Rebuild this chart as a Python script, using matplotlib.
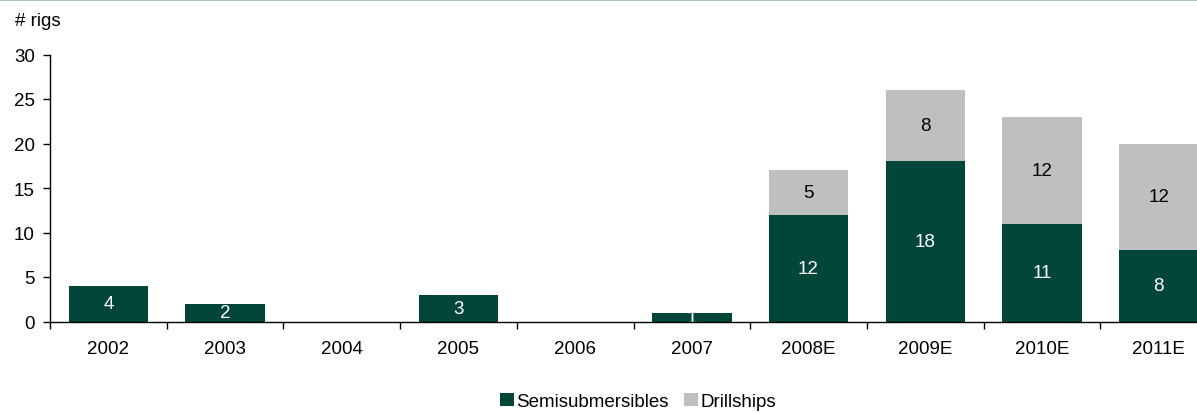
import matplotlib
matplotlib.use("Agg")
import matplotlib.pyplot as plt
from matplotlib.patches import Patch
from matplotlib.lines import Line2D

years = ["2002", "2003", "2004", "2005", "2006", "2007", "2008E", "2009E", "2010E", "2011E"]
semis = [4, 2, 0, 3, 0, 1, 12, 18, 11, 8]
drills = [0, 0, 0, 0, 0, 0, 5, 8, 12, 12]
yticks = [0, 5, 10, 15, 20, 25, 30]

green = "#02463A"
grey = "#BFBFBF"
FS = 13.5

plt.rcParams["font.family"] = ["Liberation Sans", "DejaVu Sans"]
plt.rcParams["font.size"] = FS

W, H = 1197, 414
fig = plt.figure(figsize=(W / 100, H / 100), dpi=100)
ax = fig.add_axes([50 / W, (H - 322.5) / H, 1167 / W, 267 / H])

x = list(range(len(years)))
bw = 0.68
ax.bar(x, semis, width=bw, color=green, zorder=2)
ax.bar(x, drills, width=bw, bottom=semis, color=grey, zorder=2)

for i in x:
    if semis[i] > 0:
        ax.text(i, semis[i] / 2, str(semis[i]), ha="center", va="center",
                color="white", fontsize=FS, zorder=3)
    if drills[i] > 0:
        ax.text(i, semis[i] + drills[i] / 2, str(drills[i]), ha="center",
                va="center", color="black", fontsize=FS, zorder=3)

ax.set_xlim(-0.5, len(years) - 0.5)
ax.set_ylim(0, 30)
ax.set_yticks(yticks)
ax.set_yticklabels([str(v) for v in yticks])
ax.set_xticks([i - 0.5 for i in range(len(years) + 1)])
ax.set_xticklabels([])
ax.set_xticks(x, minor=True)
ax.set_xticklabels(years, minor=True)
ax.tick_params(axis="x", which="minor", length=0, pad=13)
ax.tick_params(axis="x", which="major", length=5, width=1, direction="out")
ax.tick_params(axis="y", length=5, width=1, direction="out", pad=6)
for s in ["top", "right"]:
    ax.spines[s].set_visible(False)
for s in ["left", "bottom"]:
    ax.spines[s].set_linewidth(1)
    ax.spines[s].set_zorder(4)

fig.text(15 / W, 1 - 21 / H, "# rigs", ha="left", va="center", fontsize=FS)

# top border line
fig.add_artist(Line2D([0, 1], [1 - 0.7 / H, 1 - 0.7 / H], color="#A9C2BE", lw=1.5,
                      transform=fig.transFigure))

handles = [Patch(facecolor=green, edgecolor="none", label="Semisubmersibles"),
           Patch(facecolor=grey, edgecolor="none", label="Drillships")]
fig.legend(handles=handles, loc="lower center", bbox_to_anchor=(0.533, -0.011),
           ncol=2, frameon=False, handlelength=0.75, handleheight=0.75,
           handletextpad=0.15, columnspacing=0.8, fontsize=FS, borderaxespad=0)

fig.savefig("out.png", dpi=100)
